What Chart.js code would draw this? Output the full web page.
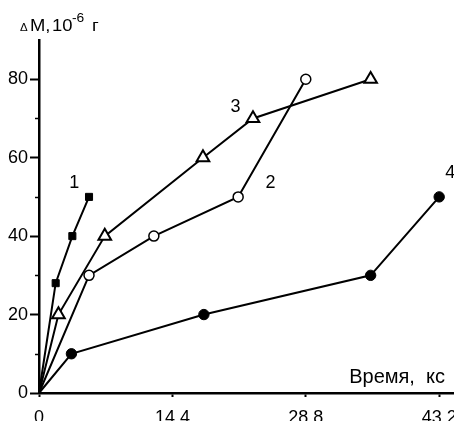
<!DOCTYPE html>
<html>
<head>
<meta charset="utf-8">
<script src="https://cdn.jsdelivr.net/npm/chart.js@4"></script>
<style>
html, body { margin: 0; padding: 0; background: #fff; }
#wrap { width: 454px; height: 421px; }
</style>
</head>
<body>
<div id="wrap"><canvas id="massChart"></canvas></div>
<script>
// curve numbers and the measured points (time in ks, mass gain in 10^-6 g)
const seriesNames = ['1', '2', '3', '4'];
const time1 = [0, 1.8, 3.6, 5.4];
const mass1 = [0, 28, 40, 50];
const time2 = [0, 5.4, 12.4, 21.5, 28.8];
const mass2 = [0, 30, 40, 50, 80];
const time3 = [0, 2.1, 7.1, 17.7, 23.1, 35.8];
const mass3 = [0, 20, 40, 60, 70, 80];
const time4 = [0, 3.5, 17.8, 35.8, 43.2];
const mass4 = [0, 10, 20, 30, 50];

const xTicks = [0, 14.4, 28.8, 43.2];
const yTicks = [0, 20, 40, 60, 80];
const yMinorTicks = [10, 30, 50, 70];

const FONT = "'Liberation Sans', Arial, sans-serif";

function points(xs, ys) {
    return xs.map((x, i) => ({ x: x, y: ys[i] }));
}

// where the curve numbers sit, in data units
const numberSpots = [
    { x: 3.8, y: 53.5 },
    { x: 25.0, y: 53.5 },
    { x: 21.2, y: 73 },
    { x: 44.4, y: 56 }
];

const hideOrigin = (r) => (ctx) => ctx.dataIndex === 0 ? 0 : r;

// text drawn a bit wider, like the original scan
function wideText(c, txt, x, y, size) {
    c.save();
    c.font = size + 'px ' + FONT;
    c.translate(x, y);
    c.scale(1.15, 1);
    c.fillText(txt, 0, 0);
    c.restore();
}

const extrasPlugin = {
    id: 'extras',
    afterDraw(chart) {
        const c = chart.ctx;
        const xs = chart.scales.x, ys = chart.scales.y;
        c.save();
        c.fillStyle = '#000';
        c.strokeStyle = '#000';

        // minor ticks on the y axis
        c.lineWidth = 1.5;
        yMinorTicks.forEach(v => {
            const py = Math.round(ys.getPixelForValue(v)) + 0.5;
            c.beginPath();
            c.moveTo(chart.chartArea.left - 4, py);
            c.lineTo(chart.chartArea.left, py);
            c.stroke();
        });

        // curve numbers
        c.font = '18px ' + FONT;
        c.textAlign = 'center';
        c.textBaseline = 'middle';
        seriesNames.forEach((n, i) => {
            c.fillText(n, xs.getPixelForValue(numberSpots[i].x), ys.getPixelForValue(numberSpots[i].y));
        });

        // y axis title: ΔM,10^-6 г
        c.textAlign = 'left';
        c.textBaseline = 'alphabetic';
        const base = 31;
        wideText(c, '\u0394', 20, base, 10);
        wideText(c, 'M,', 30, base, 16);
        wideText(c, '10', 52, base, 16);
        wideText(c, '-6', 72, base - 9, 12);
        wideText(c, 'г', 92, base, 16);

        // x axis title
        c.font = '20px ' + FONT;
        c.textAlign = 'right';
        c.fillText('Время,  кс', 445, 383);
        c.restore();
    }
};

document.addEventListener('DOMContentLoaded', () => {
    const ctx = document.getElementById('massChart').getContext('2d');
    new Chart(ctx, {
        type: 'scatter',
        data: {
            datasets: [
                {
                    label: seriesNames[0],
                    data: points(time1, mass1),
                    pointStyle: 'rect',
                    pointRadius: hideOrigin(5),
                    backgroundColor: '#000'
                },
                {
                    label: seriesNames[1],
                    data: points(time2, mass2),
                    pointStyle: 'circle',
                    pointRadius: hideOrigin(5),
                    pointBorderWidth: 1.5,
                    backgroundColor: '#fff'
                },
                {
                    label: seriesNames[2],
                    data: points(time3, mass3),
                    pointStyle: 'triangle',
                    pointRadius: hideOrigin(7.3),
                    pointBorderWidth: 2,
                    backgroundColor: '#fff'
                },
                {
                    label: seriesNames[3],
                    data: points(time4, mass4),
                    pointStyle: 'circle',
                    pointRadius: hideOrigin(5.2),
                    backgroundColor: '#000'
                }
            ].map(d => Object.assign({
                showLine: true,
                borderColor: '#000',
                borderWidth: 2,
                pointBorderColor: '#000',
                pointBorderWidth: 1,
                tension: 0,
                clip: false
            }, d))
        },
        options: {
            responsive: true,
            maintainAspectRatio: false,
            animation: false,
            events: [],
            layout: { autoPadding: false, padding: { top: 40, right: 0, left: 0, bottom: 0 } },
            plugins: {
                legend: { display: false },
                tooltip: { enabled: false }
            },
            scales: {
                x: {
                    type: 'linear',
                    min: 0,
                    max: 44.8,
                    afterBuildTicks: s => { s.ticks = xTicks.map(v => ({ value: v })); },
                    afterFit: s => { s.height = 28; s.paddingLeft = 0; s.paddingRight = 0; },
                    grid: {
                        drawOnChartArea: false,
                        drawTicks: true,
                        tickLength: 4,
                        tickWidth: 2,
                        tickColor: '#000'
                    },
                    border: { color: '#000', width: 2.5 },
                    ticks: {
                        color: '#000',
                        padding: 10,
                        maxRotation: 0,
                        autoSkip: false,
                        font: { family: FONT, size: 18 },
                        callback: v => String(v)
                    }
                },
                y: {
                    type: 'linear',
                    min: 0,
                    max: 90,
                    afterBuildTicks: s => { s.ticks = yTicks.map(v => ({ value: v })); },
                    afterFit: s => { s.width = 39; s.paddingTop = 0; s.paddingBottom = 0; },
                    grid: {
                        drawOnChartArea: false,
                        drawTicks: true,
                        tickLength: 9,
                        tickWidth: 2,
                        tickColor: '#000'
                    },
                    border: { color: '#000', width: 2.5 },
                    ticks: {
                        color: '#000',
                        padding: 2,
                        autoSkip: false,
                        font: { family: FONT, size: 18 }
                    }
                }
            }
        },
        plugins: [extrasPlugin]
    });
});
</script>
</body>
</html>
